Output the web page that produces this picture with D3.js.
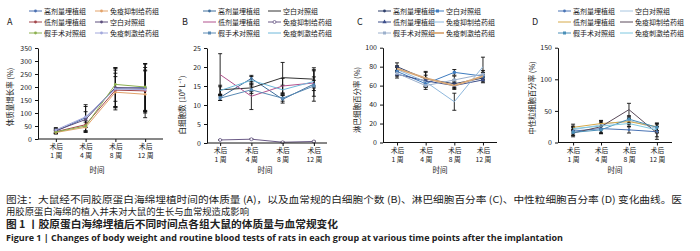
<!DOCTYPE html>
<html>
<head>
<meta charset="utf-8">
<script src="https://cdn.jsdelivr.net/npm/d3@7"></script>
<style>
  body { margin: 0; background: #fff; }
  svg { display: block; }
  text { font-family: "Noto Sans CJK SC", "Noto Sans", sans-serif; fill: #222; }
</style>
</head>
<body>
<div id="chart"></div>
<script>
// time points (x categories)
const timeLabels = ['1 周', '4 周', '8 周', '12 周'];

// legend order per panel (left column, right column, row by row)
const groupsA = ['高剂量埋植组', '免疫抑制给药组', '低剂量埋植组', '空白对照组', '假手术对照组', '免疫刺激给药组'];
const groupsBCD = ['高剂量埋植组', '空白对照组', '低剂量埋植组', '免疫抑制给药组', '假手术对照组', '免疫刺激给药组'];

// A: body weight growth rate (%)
const meanA = [[30, 82, 195, 198], [25, 45, 180, 172], [28, 55, 188, 185], [32, 75, 198, 195], [27, 50, 210, 200], [35, 85, 192, 190]];
const sdA   = [[8, 50, 70, 90], [6, 20, 60, 90], [7, 25, 65, 80], [8, 30, 75, 95], [6, 22, 65, 90], [9, 40, 80, 85]];
const ticksA = [0, 50, 100, 150, 200, 250, 300, 350];

// B: white blood cells (10^9/L)
const meanB = [[12.0, 17.0, 11.5, 15.5], [14.0, 14.5, 17.2, 16.8], [18.0, 12.3, 15.0, 15.8], [0.8, 1.0, 0.2, 0.4], [11.8, 14.0, 11.8, 15.0], [13.8, 16.5, 14.0, 16.2]];
const sdB   = [[0.8, 0.8, 1.0, 1.0], [1.2, 1.0, 4.0, 3.0], [5.5, 3.5, 2.0, 3.5], [0.1, 0.1, 0.1, 0.1], [0.6, 1.0, 0.8, 4.0], [1.0, 1.0, 1.2, 1.2]];
const ticksB = [0, 5, 10, 15, 20, 25];

// C: lymphocyte percentage (%)
const meanC = [[80, 67, 62, 68], [75, 62, 74, 70], [72, 65, 60, 66], [77, 64, 43, 80], [73, 60, 66, 72], [78, 68, 60, 70]];
const sdC   = [[4, 8, 4, 4], [4, 4, 3, 4], [4, 6, 4, 3], [3, 4, 9, 10], [3, 4, 4, 4], [3, 6, 3, 4]];
const ticksC = [0, 20, 40, 60, 80, 100];

// D: neutrophil percentage (%)
const meanD = [[18, 22, 20, 17], [20, 28, 35, 22], [24, 30, 33, 25], [15, 25, 52, 15], [16, 20, 37, 24], [22, 26, 30, 20]];
const sdD   = [[6, 8, 5, 8], [5, 6, 5, 6], [5, 5, 5, 6], [6, 9, 10, 10], [5, 6, 5, 6], [4, 6, 5, 5]];
const ticksD = [0, 50, 100, 150];

const captionLines = [
  '图注：大鼠经不同胶原蛋白海绵埋植时间的体质量 (A)，以及血常规的白细胞个数 (B)、淋巴细胞百分率 (C)、中性粒细胞百分率 (D) 变化曲线。医',
  '用胶原蛋白海绵的植入并未对大鼠的生长与血常规造成影响',
  '图 1 丨胶原蛋白海绵埋植后不同时间点各组大鼠的体质量与血常规变化',
  'Figure 1 |  Changes of body weight and routine blood tests of rats in each group at various time points after the implantation'
];

const W = 700, H = 251;
const svg = d3.select('#chart').append('svg').attr('width', W).attr('height', H);

// panel layout
const panels = [
  { key: 'A', groups: groupsA, mean: meanA, sd: sdA, ticks: ticksA, max: 350,
    ylabel: '体质量增长率 (%)', x0: 38, x1: 163, pad: 0.6, y0: 139, y1: 48, labelX: 10, labelY: 97,
    tag: 7, legL: 29, legR: 95, xtitle: 97,
    colors: ['#4a6fb0', '#e3a36a', '#a2454a', '#5d4f7d', '#8cb04f', '#a2a8dc'],
    markers: ['circle', 'circle', 'circle', 'circle', 'circle', 'circle'] },
  { key: 'B', groups: groupsBCD, mean: meanB, sd: sdB, ticks: ticksB, max: 25,
    ylabel: '白细胞数 (10⁹ L⁻¹)', x0: 207, x1: 327, pad: 0.42, y0: 143, y1: 48, labelX: 182, labelY: 105,
    tag: 182, legL: 203, legR: 268, xtitle: 265,
    colors: ['#3f6e9c', '#333333', '#b2528e', '#6a5a86', '#5a8ab4', '#6fb8da'],
    markers: ['circle', 'none', 'none', 'open', 'square', 'none'] },
  { key: 'C', groups: groupsBCD, mean: meanC, sd: sdC, ticks: ticksC, max: 100,
    ylabel: '淋巴细胞百分率 (%)', x0: 383, x1: 497, pad: 0.49, y0: 142.5, y1: 47.7, labelX: 357, labelY: 100,
    tag: 357, legL: 378, legR: 431, xtitle: 440,
    colors: ['#2f3f6a', '#3e7cc0', '#3c4e8a', '#8fb8dd', '#9cb0cc', '#d8a877'],
    markers: ['circle', 'square', 'triangle', 'none', 'square', 'none'] },
  { key: 'D', groups: groupsBCD, mean: meanD, sd: sdD, ticks: ticksD, max: 150,
    ylabel: '中性粒细胞百分率 (%)', x0: 558, x1: 672, pad: 0.54, y0: 142.5, y1: 47.7, labelX: 532, labelY: 98,
    tag: 532, legL: 558, legR: 620, xtitle: 615,
    colors: ['#4a74b5', '#a8c6e0', '#d6aa4a', '#5a4a5a', '#4a8fb8', '#7fc8e0'],
    markers: ['circle', 'none', 'none', 'none', 'square', 'none'] }
];

function drawMarker(g, type, x, y, color) {
  if (type === 'circle') {
    g.append('circle').attr('cx', x).attr('cy', y).attr('r', 1.4).attr('fill', color);
  } else if (type === 'open') {
    g.append('circle').attr('cx', x).attr('cy', y).attr('r', 1.5).attr('fill', '#fff').attr('stroke', color).attr('stroke-width', 0.8);
  } else if (type === 'square') {
    g.append('rect').attr('x', x - 1.5).attr('y', y - 1.5).attr('width', 3).attr('height', 3).attr('fill', color);
  } else if (type === 'triangle') {
    g.append('path').attr('d', d3.symbol(d3.symbolTriangle, 8)()).attr('transform', `translate(${x},${y})`).attr('fill', color);
  }
}

panels.forEach(p => {
  const g = svg.append('g');
  const x = d3.scalePoint().domain(timeLabels).range([p.x0, p.x1]).padding(p.pad);
  const y = d3.scaleLinear().domain([0, p.max]).range([p.y0, p.y1]);

  // panel letter
  g.append('text').attr('x', p.tag).attr('y', 25).attr('font-size', 9).text(p.key);

  // legend
  p.groups.forEach((name, i) => {
    const col = i % 2, row = Math.floor(i / 2);
    const lx = col === 0 ? p.legL : p.legR;
    const ly = 11 + row * 11;
    const lg = g.append('g');
    lg.append('line').attr('x1', lx).attr('x2', lx + 13).attr('y1', ly).attr('y2', ly)
      .attr('stroke', p.colors[i]).attr('stroke-width', p.key === 'C' && i === 5 ? 1.8 : 1);
    drawMarker(lg, p.markers[i], lx + 6.5, ly, p.colors[i]);
    lg.append('text').attr('x', lx + 15).attr('y', ly + 2.5).attr('font-size', 7).text(name);
  });

  // error bars first (black)
  p.mean.forEach((vals, i) => {
    vals.forEach((v, j) => {
      const cx = x(timeLabels[j]);
      const lo = Math.max(0, v - p.sd[i][j]), hi = v + p.sd[i][j];
      g.append('line').attr('x1', cx).attr('x2', cx).attr('y1', y(lo)).attr('y2', y(hi))
        .attr('stroke', '#111').attr('stroke-width', 0.9);
      [lo, hi].forEach(e => g.append('line').attr('x1', cx - 2).attr('x2', cx + 2)
        .attr('y1', y(e)).attr('y2', y(e)).attr('stroke', '#111').attr('stroke-width', 0.9));
    });
  });

  // series lines
  const line = d3.line().x((d, j) => x(timeLabels[j])).y(d => y(d));
  p.mean.forEach((vals, i) => {
    g.append('path').datum(vals).attr('d', line).attr('fill', 'none')
      .attr('stroke', p.colors[i]).attr('stroke-width', p.key === 'C' && i === 5 ? 1.8 : 1);
    vals.forEach((v, j) => drawMarker(g, p.markers[i], x(timeLabels[j]), y(v), p.colors[i]));
  });

  // y axis
  const ya = g.append('g').attr('transform', `translate(${p.x0},0)`)
    .call(d3.axisLeft(y).tickValues(p.ticks).tickSize(3).tickSizeOuter(0));
  ya.selectAll('text').attr('font-size', 7).attr('font-family', '"Noto Sans", sans-serif').attr('fill', '#222');
  ya.selectAll('line, path').attr('stroke', '#111');

  // x axis, two-line tick labels
  const xa = g.append('g').attr('transform', `translate(0,${p.y0})`)
    .call(d3.axisBottom(x).tickSize(3).tickSizeOuter(0));
  xa.select('.domain').attr('d', `M${p.x0},0H${p.x1}`).attr('stroke', '#111');
  xa.selectAll('line').attr('stroke', '#111');
  xa.selectAll('text').each(function(d) {
    const t = d3.select(this).text('').attr('font-size', 6.8).attr('fill', '#222').attr('y', 0);
    t.append('tspan').attr('x', 0).attr('dy', 10).text('术后');
    t.append('tspan').attr('x', 0).attr('dy', 9.2).text(d);
  });

  // axis titles
  g.append('text').attr('x', p.xtitle).attr('y', 173).attr('text-anchor', 'middle').attr('font-size', 7.5).text('时间');
  g.append('text').attr('transform', `translate(${p.labelX + 3},${p.labelY}) rotate(-90)`)
    .attr('text-anchor', 'middle').attr('font-size', 7.5).text(p.ylabel);
});

// captions
const capStyle = [
  { y: 203, size: 9.6, weight: 400, len: 676 },
  { y: 214.5, size: 9.4, weight: 400, len: 243 },
  { y: 227.5, size: 10, weight: 700, len: 332 },
  { y: 241, size: 8.6, weight: 700, len: 557, font: '"Open Sans", "Liberation Sans", sans-serif' }
];
captionLines.forEach((txt, i) => {
  const s = capStyle[i];
  svg.append('text').attr('x', 6).attr('y', s.y).attr('font-size', s.size).attr('font-weight', s.weight)
    .attr('textLength', s.len).attr('lengthAdjust', 'spacingAndGlyphs')
    .style('font-family', s.font || null).attr('fill', '#222').text(txt);
});
</script>
</body>
</html>
